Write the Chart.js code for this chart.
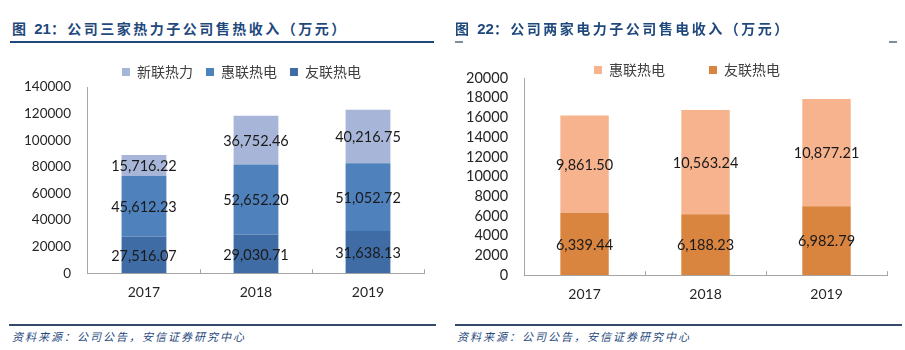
<!DOCTYPE html>
<html>
<head>
<meta charset="utf-8">
<script src="https://cdn.jsdelivr.net/npm/chart.js@4.4.0/dist/chart.umd.min.js"></script>
<style>
  body { margin: 0; background: #fff; }
  #page { position: relative; width: 905px; height: 350px; overflow: hidden; font-family: "Noto Sans CJK SC", sans-serif; }
  canvas { position: absolute; }
  .title { position: absolute; top: 18px; font-size: 14px; line-height: 20px; letter-spacing: 2.5px; color: #1F497D; font-weight: bold; white-space: nowrap; }
  .title b { font-family: "Liberation Sans", Arial, sans-serif; font-size: 15px; letter-spacing: 0; }
  .rule { position: absolute; background: #1F497D; }
  .src { position: absolute; top: 328px; font-size: 11px; line-height: 16px; letter-spacing: 2px; font-style: italic; color: #1F497D; white-space: nowrap; }
</style>
</head>
<body>
<div id="page">
  <canvas id="heat" width="450" height="262" style="left:0;top:50px"></canvas>
  <canvas id="power" width="455" height="304" style="left:450px;top:10px"></canvas>

  <div class="title" style="left:12px">图 <b>21</b>：公司三家热力子公司售热收入（万元）</div>
  <div class="rule" style="left:10px;top:41px;width:424px;height:1.5px"></div>
  <div class="title" style="left:455px">图 <b>22</b>：公司两家电力子公司售电收入（万元）</div>
  <div class="rule" style="left:455px;top:41px;width:8px;height:1.5px;background:#7f8c9d"></div>
  <div class="rule" style="left:889px;top:41px;width:8px;height:1.5px;background:#7f8c9d"></div>

  <div class="rule" style="left:9px;top:324px;width:427px;height:2px;background:#34496b"></div>
  <div class="src" style="left:12px">资料来源：公司公告，安信证券研究中心</div>
  <div class="rule" style="left:455px;top:324px;width:447px;height:2px;background:#34496b"></div>
  <div class="src" style="left:457px">资料来源：公司公告，安信证券研究中心</div>
</div>
<script>
const years = ['2017', '2018', '2019'];

// 售热收入（万元）
const xinlianHeat = [15716.22, 36752.46, 40216.75];
const huilianHeat = [45612.23, 52652.20, 51052.72];
const youlianHeat = [27516.07, 29030.71, 31638.13];

// 售电收入（万元）
const huilianPower = [9861.50, 10563.24, 10877.21];
const youlianPower = [6339.44, 6188.23, 6982.79];

const heatTicks = { min: 0, max: 140000, step: 20000 };
const powerTicks = { min: 0, max: 20000, step: 2000 };

const axisGrey = '#A6A6A6';
const fmt = v => v.toLocaleString('en-US', { minimumFractionDigits: 2, maximumFractionDigits: 2 });

// value labels in the middle of each stacked segment
const segmentLabels = {
  id: 'segmentLabels',
  afterDatasetsDraw(chart, args, opts) {
    const ctx = chart.ctx;
    ctx.save();
    ctx.font = opts.font;
    ctx.fillStyle = opts.color;
    ctx.textAlign = 'center';
    ctx.textBaseline = 'middle';
    chart.data.datasets.forEach((ds, i) => {
      chart.getDatasetMeta(i).data.forEach((bar, j) => {
        ctx.fillText(fmt(ds.data[j]), bar.x, (bar.y + bar.base) / 2 + 1);
      });
    });
    ctx.restore();
  }
};

// nudge the legend to where the original sits
const legendShift = {
  id: 'legendShift',
  afterLayout(chart, args, opts) {
    const lg = chart.legend;
    lg.left += opts.dx; lg.right += opts.dx;
    lg.top += opts.dy; lg.bottom += opts.dy;
  }
};

// small upward tick marks on the category boundaries
const innerTicks = {
  id: 'innerTicks',
  afterDraw(chart) {
    const x = chart.scales.x, ctx = chart.ctx;
    const n = chart.data.labels.length;
    const half = (x.getPixelForValue(1) - x.getPixelForValue(0)) / 2;
    const y = chart.chartArea.bottom;
    ctx.save();
    ctx.strokeStyle = axisGrey;
    ctx.lineWidth = 1;
    for (let i = 1; i <= n; i++) {
      const px = Math.round(x.getPixelForValue(i) - half) + 0.5;
      ctx.beginPath();
      ctx.moveTo(px, y);
      ctx.lineTo(px, y - 4);
      ctx.stroke();
    }
    ctx.restore();
  }
};

function makeChart(id, datasets, ticks, o) {
  return new Chart(document.getElementById(id), {
    type: 'bar',
    data: { labels: years, datasets: datasets },
    plugins: [segmentLabels, legendShift, innerTicks],
    options: {
      responsive: false,
      animation: false,
      layout: { padding: o.padding },
      datasets: { bar: { barPercentage: 0.4, categoryPercentage: 1.0, borderWidth: 0 } },
      scales: {
        x: {
          stacked: true,
          grid: { display: false, drawTicks: false },
          border: { color: axisGrey },
          ticks: { color: '#262626', padding: 11, font: { family: 'Lato', size: 14 } }
        },
        y: {
          stacked: true,
          min: ticks.min,
          max: ticks.max,
          grid: { display: false, drawTicks: false },
          border: { color: axisGrey },
          ticks: {
            stepSize: ticks.step,
            autoSkip: false,
            color: '#262626',
            padding: o.tickPad,
            font: { family: 'Lato', size: o.tickSize },
            callback: v => String(v)
          }
        }
      },
      plugins: {
        tooltip: { enabled: false },
        legend: {
          position: 'top',
          labels: {
            boxWidth: 8,
            boxHeight: 8,
            padding: o.legendPad,
            color: '#404040',
            font: { family: 'Noto Sans CJK SC', size: 14 },
            sort: (a, b) => b.datasetIndex - a.datasetIndex
          }
        },
        legendShift: o.shift,
        segmentLabels: { font: '14.5px Lato', color: '#1a1a1a' }
      }
    }
  });
}

makeChart('heat', [
  { label: '友联热电', data: youlianHeat, backgroundColor: '#3F6CA4' },
  { label: '惠联热电', data: huilianHeat, backgroundColor: '#4F81BD' },
  { label: '新联热力', data: xinlianHeat, backgroundColor: '#A7B6D8' }
], heatTicks, {
  padding: { left: 7, right: 26, top: 0, bottom: 0 },
  tickPad: 17, tickSize: 13.5, legendPad: 13,
  shift: { dx: 26, dy: 2 }
});

makeChart('power', [
  { label: '友联热电', data: youlianPower, backgroundColor: '#D9843F' },
  { label: '惠联热电', data: huilianPower, backgroundColor: '#F6B38D' }
], powerTicks, {
  padding: { left: 0, right: 18, top: 0, bottom: 0 },
  tickPad: 16, tickSize: 14.5, legendPad: 44,
  shift: { dx: 18.5, dy: 9 }
});
</script>
</body>
</html>
